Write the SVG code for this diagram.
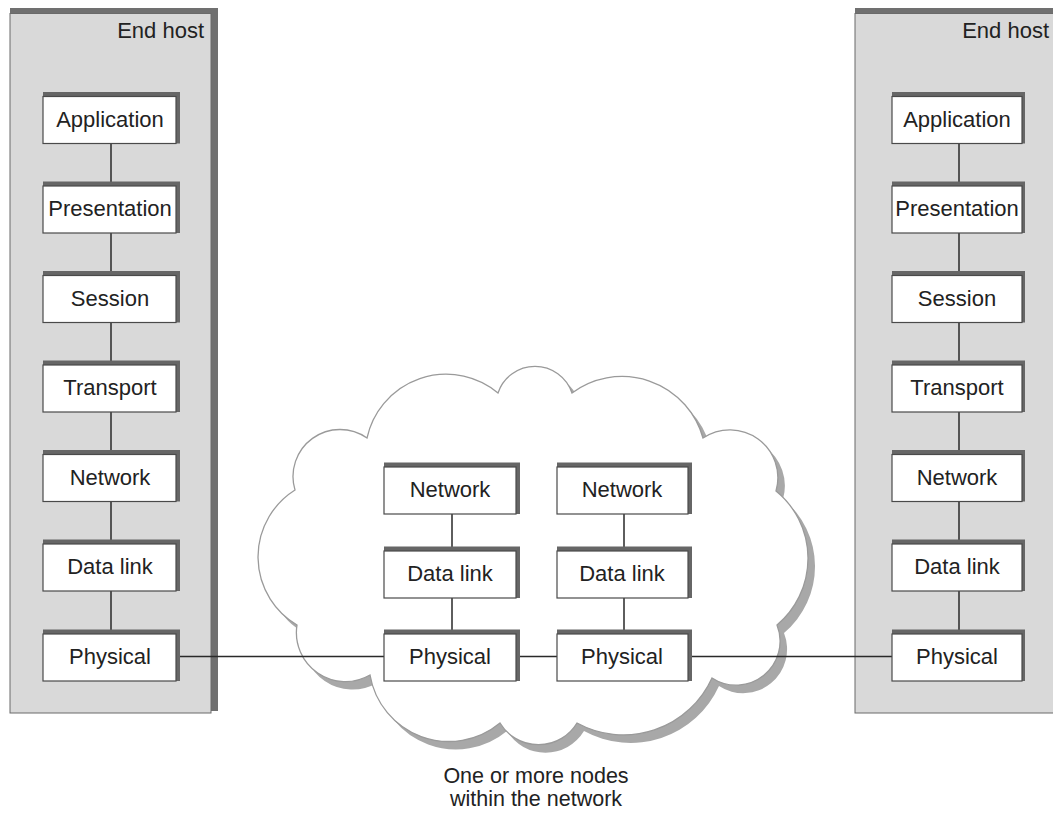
<svg xmlns="http://www.w3.org/2000/svg" width="1053" height="813" viewBox="0 0 1053 813">
  <style>
    .panel { fill: #d9d9d9; stroke: #6a6a6a; stroke-width: 1; }
    .panel-edge { fill: #707070; }
    .box { fill: #ffffff; stroke: #4a4a4a; stroke-width: 1.2; }
    .box-edge { fill: #666666; }
    .label { font-family: "Liberation Sans", Arial, sans-serif; font-size: 22px; fill: #222222; text-anchor: middle; }
    .host { font-family: "Liberation Sans", Arial, sans-serif; font-size: 22px; fill: #222222; text-anchor: end; }
    .caption { font-family: "Liberation Sans", Arial, sans-serif; font-size: 21.5px; fill: #222222; text-anchor: middle; }
    .link { stroke: #2a2a2a; stroke-width: 1.5; fill: none; }
    .cloud { fill: #ffffff; stroke: #9a9a9a; stroke-width: 1.3; }
    .cloud-shadow { fill: #a8a8a8; }
  </style>
  <defs>
    <path id="cloudShape" d="M367,438 A81,81 0 0 1 498,393 A39,39 0 0 1 572,393 A84,84 0 0 1 703,438 A48,48 0 0 1 776,491 A87,87 0 0 1 777,625 A44,44 0 0 1 712,678 A97,97 0 0 1 577,723 A45,45 0 0 1 500,723 A80,80 0 0 1 370,675 A49,49 0 0 1 297,625 A79,79 0 0 1 295,490 A47,47 0 0 1 367,438 Z"/>
  </defs>

  <rect width="1053" height="813" fill="#ffffff"/>

  <!-- end host panels -->
  <g id="host-left">
    <rect class="panel-edge" x="10" y="8" width="208" height="703"/>
    <rect class="panel" x="10" y="13.5" width="201" height="699.5"/>
    <text class="host" x="204" y="38">End host</text>
  </g>
  <g id="host-right">
    <rect class="panel-edge" x="855" y="8" width="210" height="703"/>
    <rect class="panel" x="855" y="13.5" width="210" height="699.5"/>
    <text class="host" x="1049" y="38">End host</text>
  </g>

  <!-- network cloud -->
  <g id="cloud">
    <use href="#cloudShape" class="cloud-shadow" transform="translate(7,8)"/>
    <use href="#cloudShape" class="cloud"/>
    <text class="caption" x="536" y="783">One or more nodes</text>
    <text class="caption" x="536" y="806">within the network</text>
  </g>

  <!-- connectors -->
  <g id="connectors">
    <path class="link" d="M111,143.5 V186 M111,233 V275.5 M111,322.5 V365 M111,412 V454.5 M111,501.5 V544 M111,591 V634"/>
    <path class="link" d="M959,143.5 V186 M959,233 V275.5 M959,322.5 V365 M959,412 V454.5 M959,501.5 V544 M959,591 V634"/>
    <path class="link" d="M452,514 V551 M452,598 V634"/>
    <path class="link" d="M624,514 V551 M624,598 V634"/>
    <path class="link" d="M179,656.5 H384 M520,656.5 H557 M692,656.5 H892"/>
  </g>

  <!-- left host layers -->
  <g id="l-application"><rect class="box-edge" x="43" y="92" width="137" height="51.5"/><rect class="box" x="43" y="96.5" width="133" height="47"/><text class="label" x="110" y="126.5">Application</text></g>
  <g id="l-presentation"><rect class="box-edge" x="43" y="181.5" width="137" height="51.5"/><rect class="box" x="43" y="186" width="133" height="47"/><text class="label" x="110" y="216">Presentation</text></g>
  <g id="l-session"><rect class="box-edge" x="43" y="271" width="137" height="51.5"/><rect class="box" x="43" y="275.5" width="133" height="47"/><text class="label" x="110" y="305.5">Session</text></g>
  <g id="l-transport"><rect class="box-edge" x="43" y="360.5" width="137" height="51.5"/><rect class="box" x="43" y="365" width="133" height="47"/><text class="label" x="110" y="395">Transport</text></g>
  <g id="l-network"><rect class="box-edge" x="43" y="450" width="137" height="51.5"/><rect class="box" x="43" y="454.5" width="133" height="47"/><text class="label" x="110" y="484.5">Network</text></g>
  <g id="l-datalink"><rect class="box-edge" x="43" y="539.5" width="137" height="51.5"/><rect class="box" x="43" y="544" width="133" height="47"/><text class="label" x="110" y="574">Data link</text></g>
  <g id="l-physical"><rect class="box-edge" x="43" y="629.5" width="137" height="51.5"/><rect class="box" x="43" y="634" width="133" height="47"/><text class="label" x="110" y="664">Physical</text></g>

  <!-- right host layers -->
  <g id="r-application"><rect class="box-edge" x="892" y="92" width="133" height="51.5"/><rect class="box" x="892" y="96.5" width="130" height="47"/><text class="label" x="957" y="126.5">Application</text></g>
  <g id="r-presentation"><rect class="box-edge" x="892" y="181.5" width="133" height="51.5"/><rect class="box" x="892" y="186" width="130" height="47"/><text class="label" x="957" y="216">Presentation</text></g>
  <g id="r-session"><rect class="box-edge" x="892" y="271" width="133" height="51.5"/><rect class="box" x="892" y="275.5" width="130" height="47"/><text class="label" x="957" y="305.5">Session</text></g>
  <g id="r-transport"><rect class="box-edge" x="892" y="360.5" width="133" height="51.5"/><rect class="box" x="892" y="365" width="130" height="47"/><text class="label" x="957" y="395">Transport</text></g>
  <g id="r-network"><rect class="box-edge" x="892" y="450" width="133" height="51.5"/><rect class="box" x="892" y="454.5" width="130" height="47"/><text class="label" x="957" y="484.5">Network</text></g>
  <g id="r-datalink"><rect class="box-edge" x="892" y="539.5" width="133" height="51.5"/><rect class="box" x="892" y="544" width="130" height="47"/><text class="label" x="957" y="574">Data link</text></g>
  <g id="r-physical"><rect class="box-edge" x="892" y="629.5" width="133" height="51.5"/><rect class="box" x="892" y="634" width="130" height="47"/><text class="label" x="957" y="664">Physical</text></g>

  <!-- intermediate node A -->
  <g id="a-network"><rect class="box-edge" x="384" y="462.5" width="136" height="51.5"/><rect class="box" x="384" y="467" width="132" height="47"/><text class="label" x="450" y="497">Network</text></g>
  <g id="a-datalink"><rect class="box-edge" x="384" y="546.5" width="136" height="51.5"/><rect class="box" x="384" y="551" width="132" height="47"/><text class="label" x="450" y="581">Data link</text></g>
  <g id="a-physical"><rect class="box-edge" x="384" y="629.5" width="136" height="51.5"/><rect class="box" x="384" y="634" width="132" height="47"/><text class="label" x="450" y="664">Physical</text></g>

  <!-- intermediate node B -->
  <g id="b-network"><rect class="box-edge" x="557" y="462.5" width="135" height="51.5"/><rect class="box" x="557" y="467" width="131" height="47"/><text class="label" x="622" y="497">Network</text></g>
  <g id="b-datalink"><rect class="box-edge" x="557" y="546.5" width="135" height="51.5"/><rect class="box" x="557" y="551" width="131" height="47"/><text class="label" x="622" y="581">Data link</text></g>
  <g id="b-physical"><rect class="box-edge" x="557" y="629.5" width="135" height="51.5"/><rect class="box" x="557" y="634" width="131" height="47"/><text class="label" x="622" y="664">Physical</text></g>
</svg>
